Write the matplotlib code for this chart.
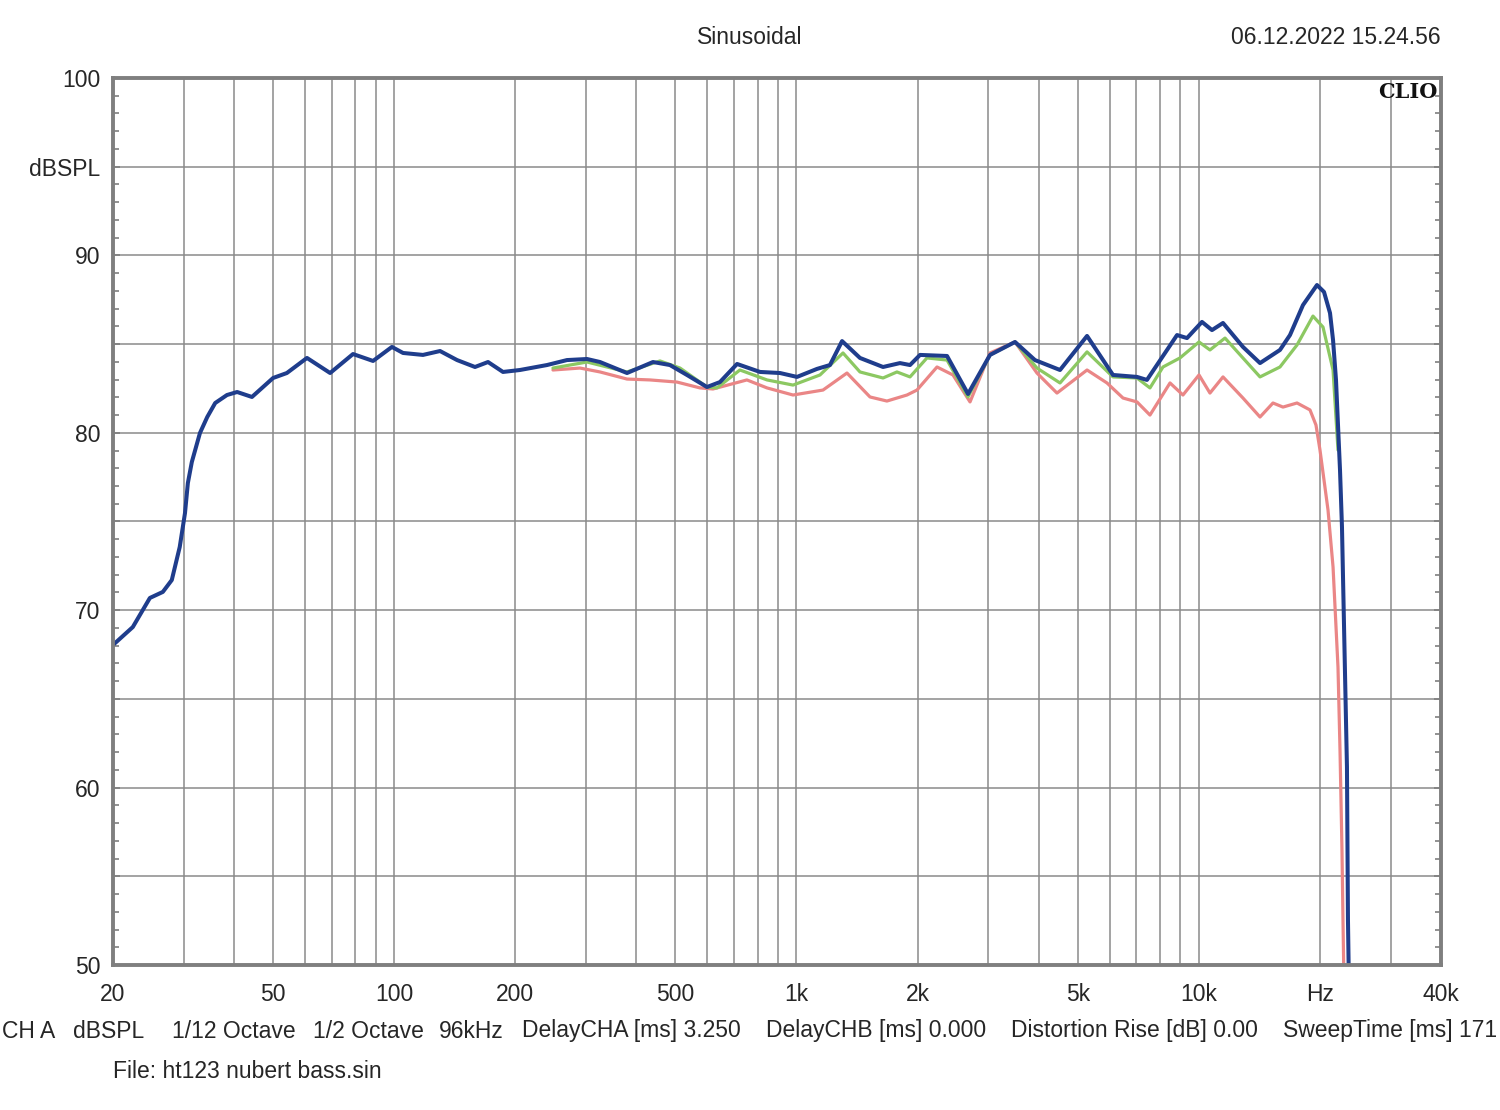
import matplotlib
matplotlib.use("Agg")
import matplotlib.pyplot as plt
from matplotlib.ticker import FixedLocator, NullFormatter

plt.rcParams['font.family'] = ['Liberation Sans', 'DejaVu Sans']

# ---- data (frequency in Hz, level in dBSPL) ----
blue_f = [20, 22.4, 24.7, 26.6, 28.0, 29.3, 30.2, 30.7, 31.4, 32.9, 34.3, 35.9, 38.4, 40.7,
          44.3, 50.0, 54.1, 60.7, 69.3, 79.0, 88.6, 98.7, 105.2, 117.9, 130, 143.3, 158.8,
          171.1, 186.4, 205.4, 239.8, 268.8, 301.5, 324.8, 379.1, 439.8, 484.6, 534.3, 599.1,
          645.3, 711.6, 811.6, 910, 1003, 1124, 1211, 1298, 1438, 1641, 1808, 1915, 2028, 2367,
          2669, 3027, 3493, 3915, 4519, 5275, 6119, 7021, 7432, 8829, 9348, 10184, 10784,
          11486, 12877, 14196, 15915, 16853, 18155, 19669, 20476, 21193, 21563, 21930, 22059,
          22440, 22694, 23090, 23350, 23486, 23750]
blue_db = [68.04, 69.05, 70.69, 71.03, 71.70, 73.56, 75.48, 77.17, 78.35, 79.99, 80.89, 81.68,
           82.13, 82.30, 82.02, 83.09, 83.37, 84.22, 83.37, 84.44, 84.05, 84.84, 84.50, 84.39,
           84.61, 84.10, 83.71, 83.99, 83.43, 83.54, 83.82, 84.10, 84.16, 83.99, 83.37, 83.99,
           83.82, 83.26, 82.58, 82.86, 83.88, 83.43, 83.37, 83.15, 83.60, 83.82, 85.17, 84.22,
           83.71, 83.93, 83.82, 84.39, 84.33, 82.19, 84.39, 85.12, 84.10, 83.54, 85.46, 83.26,
           83.15, 82.98, 85.51, 85.34, 86.25, 85.79, 86.19, 84.84, 83.93, 84.67, 85.51, 87.20,
           88.33, 87.94, 86.75, 85.23, 82.98, 81.68, 77.90, 74.69, 66.46, 61.16, 52.54, 45.0]

green_f = [248.1, 301.5, 379.1, 457.8, 513.4, 599.1, 634.5, 723.4, 844.8, 980.3, 1144, 1305,
           1438, 1641, 1777, 1915, 2110, 2367, 2669, 3027, 3493, 3960, 4519, 5275, 6119, 7021,
           7562, 8147, 8980, 10012, 10660, 11619, 14196, 15915, 17545, 19222, 20358, 21563,
           22182]
green_db = [83.65, 83.99, 83.43, 84.05, 83.65, 82.58, 82.53, 83.54, 82.98, 82.69, 83.26, 84.50,
            83.43, 83.09, 83.43, 83.15, 84.22, 84.10, 82.02, 84.39, 85.12, 83.65, 82.81, 84.56,
            83.15, 83.09, 82.53, 83.71, 84.22, 85.12, 84.67, 85.34, 83.15, 83.71, 84.95, 86.58,
            85.96, 83.54, 79.03]

red_f = [248.1, 289.6, 324.8, 379.1, 432.3, 504.6, 575.6, 620.0, 753.0, 844.8, 980.3, 1164,
         1335, 1523, 1678, 1882, 1993, 2235, 2449, 2700, 3027, 3493, 3960, 4441, 5275, 5912,
         6481, 7021, 7562, 8481, 9133, 10012, 10660, 11486, 12877, 14196, 15290, 16192, 17545,
         18897, 19556, 20010, 20950, 21563, 22182, 22440, 22694, 22825, 23100]
red_db = [83.54, 83.65, 83.43, 83.03, 82.98, 82.86, 82.53, 82.47, 82.98, 82.53, 82.13, 82.41,
          83.37, 82.02, 81.79, 82.13, 82.41, 83.71, 83.26, 81.74, 84.50, 85.12, 83.37, 82.24,
          83.54, 82.81, 81.96, 81.74, 81.00, 82.81, 82.13, 83.26, 82.24, 83.15, 81.96, 80.89,
          81.68, 81.45, 81.68, 81.29, 80.44, 79.03, 75.65, 72.44, 66.80, 62.12, 56.48, 52.54,
          45.0]

x_ticks = [20, 50, 100, 200, 500, 1000, 2000, 5000, 10000, 20000, 40000]
x_labels = ["20", "50", "100", "200", "500", "1k", "2k", "5k", "10k", "Hz", "40k"]
x_grid = [30, 40, 50, 60, 70, 80, 90, 100, 200, 300, 400, 500, 600, 700, 800, 900, 1000,
          2000, 3000, 4000, 5000, 6000, 7000, 8000, 9000, 10000, 20000, 30000]
y_ticks = [50, 55, 60, 65, 70, 75, 80, 85, 90, 95, 100]
y_labels = ["50", "", "60", "", "70", "", "80", "", "90", "dBSPL", "100"]

footer = [("CH A", 2), ("dBSPL", 73), ("1/12 Octave", 172), ("1/2 Octave", 313),
          ("96kHz", 439), ("DelayCHA [ms] 3.250", 522), ("DelayCHB [ms] 0.000", 766),
          ("Distortion Rise [dB] 0.00", 1011), ("SweepTime [ms] 171", 1283)]

FS = 16.5
TXT = "#262626"

# ---- figure ----
W, H = 1500, 1110
fig = plt.figure(figsize=(W / 100, H / 100), dpi=100)
fig.patch.set_facecolor("white")
ax = fig.add_axes([113 / W, 1 - 965 / H, (1441 - 113) / W, (965 - 78) / H])
ax.set_xscale("log")
ax.set_xlim(20, 40000)
ax.set_ylim(50, 100)

grid_c = "#8a8a8a"
for g in x_grid:
    ax.axvline(g, color=grid_c, lw=1.1, zorder=1)
for g in y_ticks[1:-1]:
    ax.axhline(g, color=grid_c, lw=1.1, zorder=1)

ax.plot(red_f, red_db, color="#ea8686", lw=2.3, zorder=3, solid_joinstyle="round",
        solid_capstyle="round")
ax.plot(green_f, green_db, color="#8cc862", lw=2.3, zorder=4, solid_joinstyle="round",
        solid_capstyle="round")
ax.plot(blue_f, blue_db, color="#1f3d8c", lw=2.9, zorder=5, solid_joinstyle="round",
        solid_capstyle="round")

ax.xaxis.set_major_locator(FixedLocator(x_ticks))
ax.xaxis.set_minor_locator(FixedLocator([]))
ax.set_xticks(x_ticks)
ax.set_xticklabels(x_labels)
ax.set_yticks(y_ticks)
ax.set_yticklabels(y_labels)
ax.yaxis.set_minor_locator(FixedLocator(list(range(50, 101))))
ax.yaxis.set_minor_formatter(NullFormatter())

ax.tick_params(axis="x", which="both", length=0, pad=13, labelsize=FS, colors=TXT)
ax.tick_params(axis="y", which="major", length=5, width=1.2, direction="in", left=True,
               right=True, pad=9, labelsize=FS, colors=TXT)
ax.tick_params(axis="y", which="minor", length=4.5, width=1.2, direction="in", left=True,
               right=True, color="#7f7f7f")
ax.tick_params(axis="y", which="major", color="#7f7f7f")

for s in ax.spines.values():
    s.set_color("#7f7f7f")
    s.set_linewidth(2.8)
    s.set_zorder(6)

fig.text(750 / W, 1 - 38 / H, "Sinusoidal", ha="center", va="center", fontsize=FS,
         color=TXT)
fig.text(1336 / W, 1 - 38 / H, "06.12.2022 15.24.56", ha="center", va="center", fontsize=FS,
         color=TXT)
fig.text(1408 / W, 1 - 92 / H, "CLIO", ha="center", va="center", fontsize=15,
         fontweight="bold", family=["DejaVu Serif"], color="#111111", zorder=10)

for txt, xp in footer:
    fig.text(xp / W, 1 - 1031 / H, txt, ha="left", va="center", fontsize=FS, color=TXT)
fig.text(113 / W, 1 - 1071 / H, "File: ht123 nubert bass.sin", ha="left", va="center",
         fontsize=FS, color=TXT)

fig.savefig("out.png", dpi=100, facecolor="white")
